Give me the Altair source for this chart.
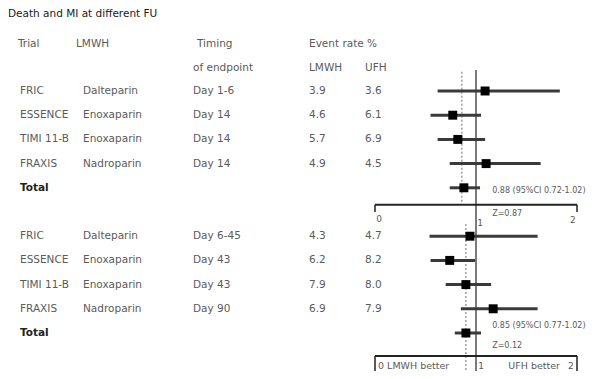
import altair as alt
import pandas as pd

# ---------------- data ----------------
trials = ["FRIC", "ESSENCE", "TIMI 11-B", "FRAXIS"]
drugs = ["Dalteparin", "Enoxaparin", "Enoxaparin", "Nadroparin"]
timing1 = ["Day 1-6", "Day 14", "Day 14", "Day 14"]
timing2 = ["Day 6-45", "Day 43", "Day 43", "Day 90"]
lmwh1 = ["3.9", "4.6", "5.7", "4.9"]
ufh1 = ["3.6", "6.1", "6.9", "4.5"]
lmwh2 = ["4.3", "6.2", "7.9", "6.9"]
ufh2 = ["4.7", "8.2", "8.0", "7.9"]

# odds ratio, lower, upper (4 trials + total)
or1 = [1.09, 0.77, 0.82, 1.10, 0.88]
lo1 = [0.62, 0.55, 0.62, 0.74, 0.74]
hi1 = [1.83, 1.05, 1.09, 1.64, 1.04]
or2 = [0.94, 0.74, 0.90, 1.17, 0.90]
lo2 = [0.54, 0.55, 0.70, 0.85, 0.79]
hi2 = [1.61, 0.99, 1.15, 1.61, 1.05]

pooled1 = 0.86
pooled2 = 0.90
summary1 = "0.88 (95%CI 0.72-1.02)"
z1 = "Z=0.87"
summary2 = "0.85 (95%CI 0.77-1.02)"
z2 = "Z=0.12"

rows1 = [0, 1, 2, 3, 4]
rows2 = [6, 7, 8, 9, 10]

# ---------------- tables ----------------
forest = pd.DataFrame({
    "row": rows1 + rows2,
    "or": or1 + or2,
    "lo": lo1 + lo2,
    "hi": hi1 + hi2,
})

table = pd.DataFrame({
    "row": rows1[:4] + rows2[:4],
    "trial": trials + trials,
    "drug": drugs + drugs,
    "timing": timing1 + timing2,
    "lmwh": lmwh1 + lmwh2,
    "ufh": ufh1 + ufh2,
})
totals = pd.DataFrame({"row": [4, 10], "label": ["Total", "Total"]})

xs = alt.Scale(domain=[0, 2], range=[364, 566], nice=False, zero=False)
ys = alt.Scale(domain=[0, 10], range=[81, 323], nice=False, zero=False)

FONT = "DejaVu Sans"
TXT = "#5a5a5a"
FS = 10.5

def X(f):
    return alt.X(f, type="quantitative", scale=xs, axis=None)

def Y(f):
    return alt.Y(f, type="quantitative", scale=ys, axis=None)

def txt(df, field, xpix, color=TXT, size=FS, weight="normal", align="left"):
    return alt.Chart(df).mark_text(align=align, baseline="middle", font=FONT,
                                   fontSize=size, color=color, fontWeight=weight).encode(
        x=alt.value(xpix), y=Y("row"), text=alt.Text(f"{field}:N"))

layers = []

# title and headers
hdr = pd.DataFrame({
    "row": [-3.2, -1.95, -1.95, -1.95, -1.95, -0.95, -0.95, -0.95],
    "label": ["Death and MI at different FU", "Trial", "LMWH", "Timing",
              "Event rate %", "of endpoint", "LMWH", "UFH"],
    "xp": [-3, 7, 65, 186, 298, 182, 298, 354],
    "bold": [1, 0, 0, 0, 0, 0, 0, 0],
})
layers.append(alt.Chart(hdr[hdr.bold == 1]).mark_text(
    align="left", baseline="middle", font=FONT, fontSize=10.5,
    color="#1a1a1a").encode(x=alt.X("xp:Q", scale=None, axis=None), y=Y("row"), text="label:N"))
layers.append(alt.Chart(hdr[hdr.bold == 0]).mark_text(
    align="left", baseline="middle", font=FONT, fontSize=FS, color=TXT).encode(
    x=alt.X("xp:Q", scale=None, axis=None), y=Y("row"), text="label:N"))

# table columns
layers.append(txt(table, "trial", 9))
layers.append(txt(table, "drug", 72))
layers.append(txt(table, "timing", 182))
layers.append(txt(table, "lmwh", 298))
layers.append(txt(table, "ufh", 354))
layers.append(txt(totals, "label", 9, color="#222222", weight="bold"))

# reference lines
vlines = pd.DataFrame({"x": [1.0], "y1": [-0.87], "y2": [11.98]})
layers.append(alt.Chart(vlines).mark_rule(color="#333333", strokeWidth=1.3).encode(
    x=X("x"), y=Y("y1"), y2="y2"))
dlines = pd.DataFrame({"x": [pooled1, pooled2], "y1": [-0.8, 5.5], "y2": [4.6, 11.98]})
layers.append(alt.Chart(dlines).mark_rule(color="#888888", strokeWidth=1.2,
                                           strokeDash=[2, 2]).encode(
    x=X("x"), y=Y("y1"), y2="y2"))

# confidence intervals and point estimates
layers.append(alt.Chart(forest).mark_rule(color="#3a3a3a", strokeWidth=3).encode(
    x=X("lo"), x2="hi", y=Y("row")))
layers.append(alt.Chart(forest).mark_square(color="black", size=80, opacity=1).encode(
    x=X("or"), y=Y("row")))

# axes as brackets
hax = pd.DataFrame({"x1": [0, 0], "x2": [2, 2], "y": [4.7, 10.95]})
layers.append(alt.Chart(hax).mark_rule(color="#222222", strokeWidth=2).encode(
    x=X("x1"), x2="x2", y=Y("y")))
vt = pd.DataFrame({"x": [0, 2, 0, 2], "y1": [4.7, 4.7, 10.95, 10.95],
                   "y2": [5.0, 5.0, 11.75, 11.75]})
layers.append(alt.Chart(vt).mark_rule(color="#222222", strokeWidth=1.5).encode(
    x=X("x"), y=Y("y1"), y2="y2"))

ticklab = pd.DataFrame({"x": [0.04, 1.04, 1.96, 1.05, 1.94],
                        "row": [5.3, 5.45, 5.35, 11.35, 11.35],
                        "label": ["0", "1", "2", "1", "2"]})
layers.append(alt.Chart(ticklab).mark_text(font=FONT, fontSize=9, color=TXT,
                                            baseline="middle", align="center").encode(
    x=X("x"), y=Y("row"), text="label:N"))

axlab = pd.DataFrame({"x": [0.03, 1.32], "row": [11.35, 11.35],
                      "label": ["0 LMWH better", "UFH better"]})
layers.append(alt.Chart(axlab).mark_text(font=FONT, fontSize=9.5, color=TXT,
                                          baseline="middle", align="left").encode(
    x=X("x"), y=Y("row"), text="label:N"))

ann = pd.DataFrame({"x": [1.16, 1.16, 1.16, 1.16],
                    "row": [4.15, 5.1, 9.7, 10.55],
                    "label": [summary1, z1, summary2, z2]})
layers.append(alt.Chart(ann).mark_text(font=FONT, fontSize=8, color=TXT,
                                        baseline="middle", align="left").encode(
    x=X("x"), y=Y("row"), text="label:N"))

chart = alt.layer(*layers).properties(
    width=581, height=363,
    autosize=alt.AutoSizeParams(type="fit", contains="padding"),
    padding=0,
).configure_view(stroke=None)

chart.save("out.html", embed_options={"renderer": "svg", "actions": False})
